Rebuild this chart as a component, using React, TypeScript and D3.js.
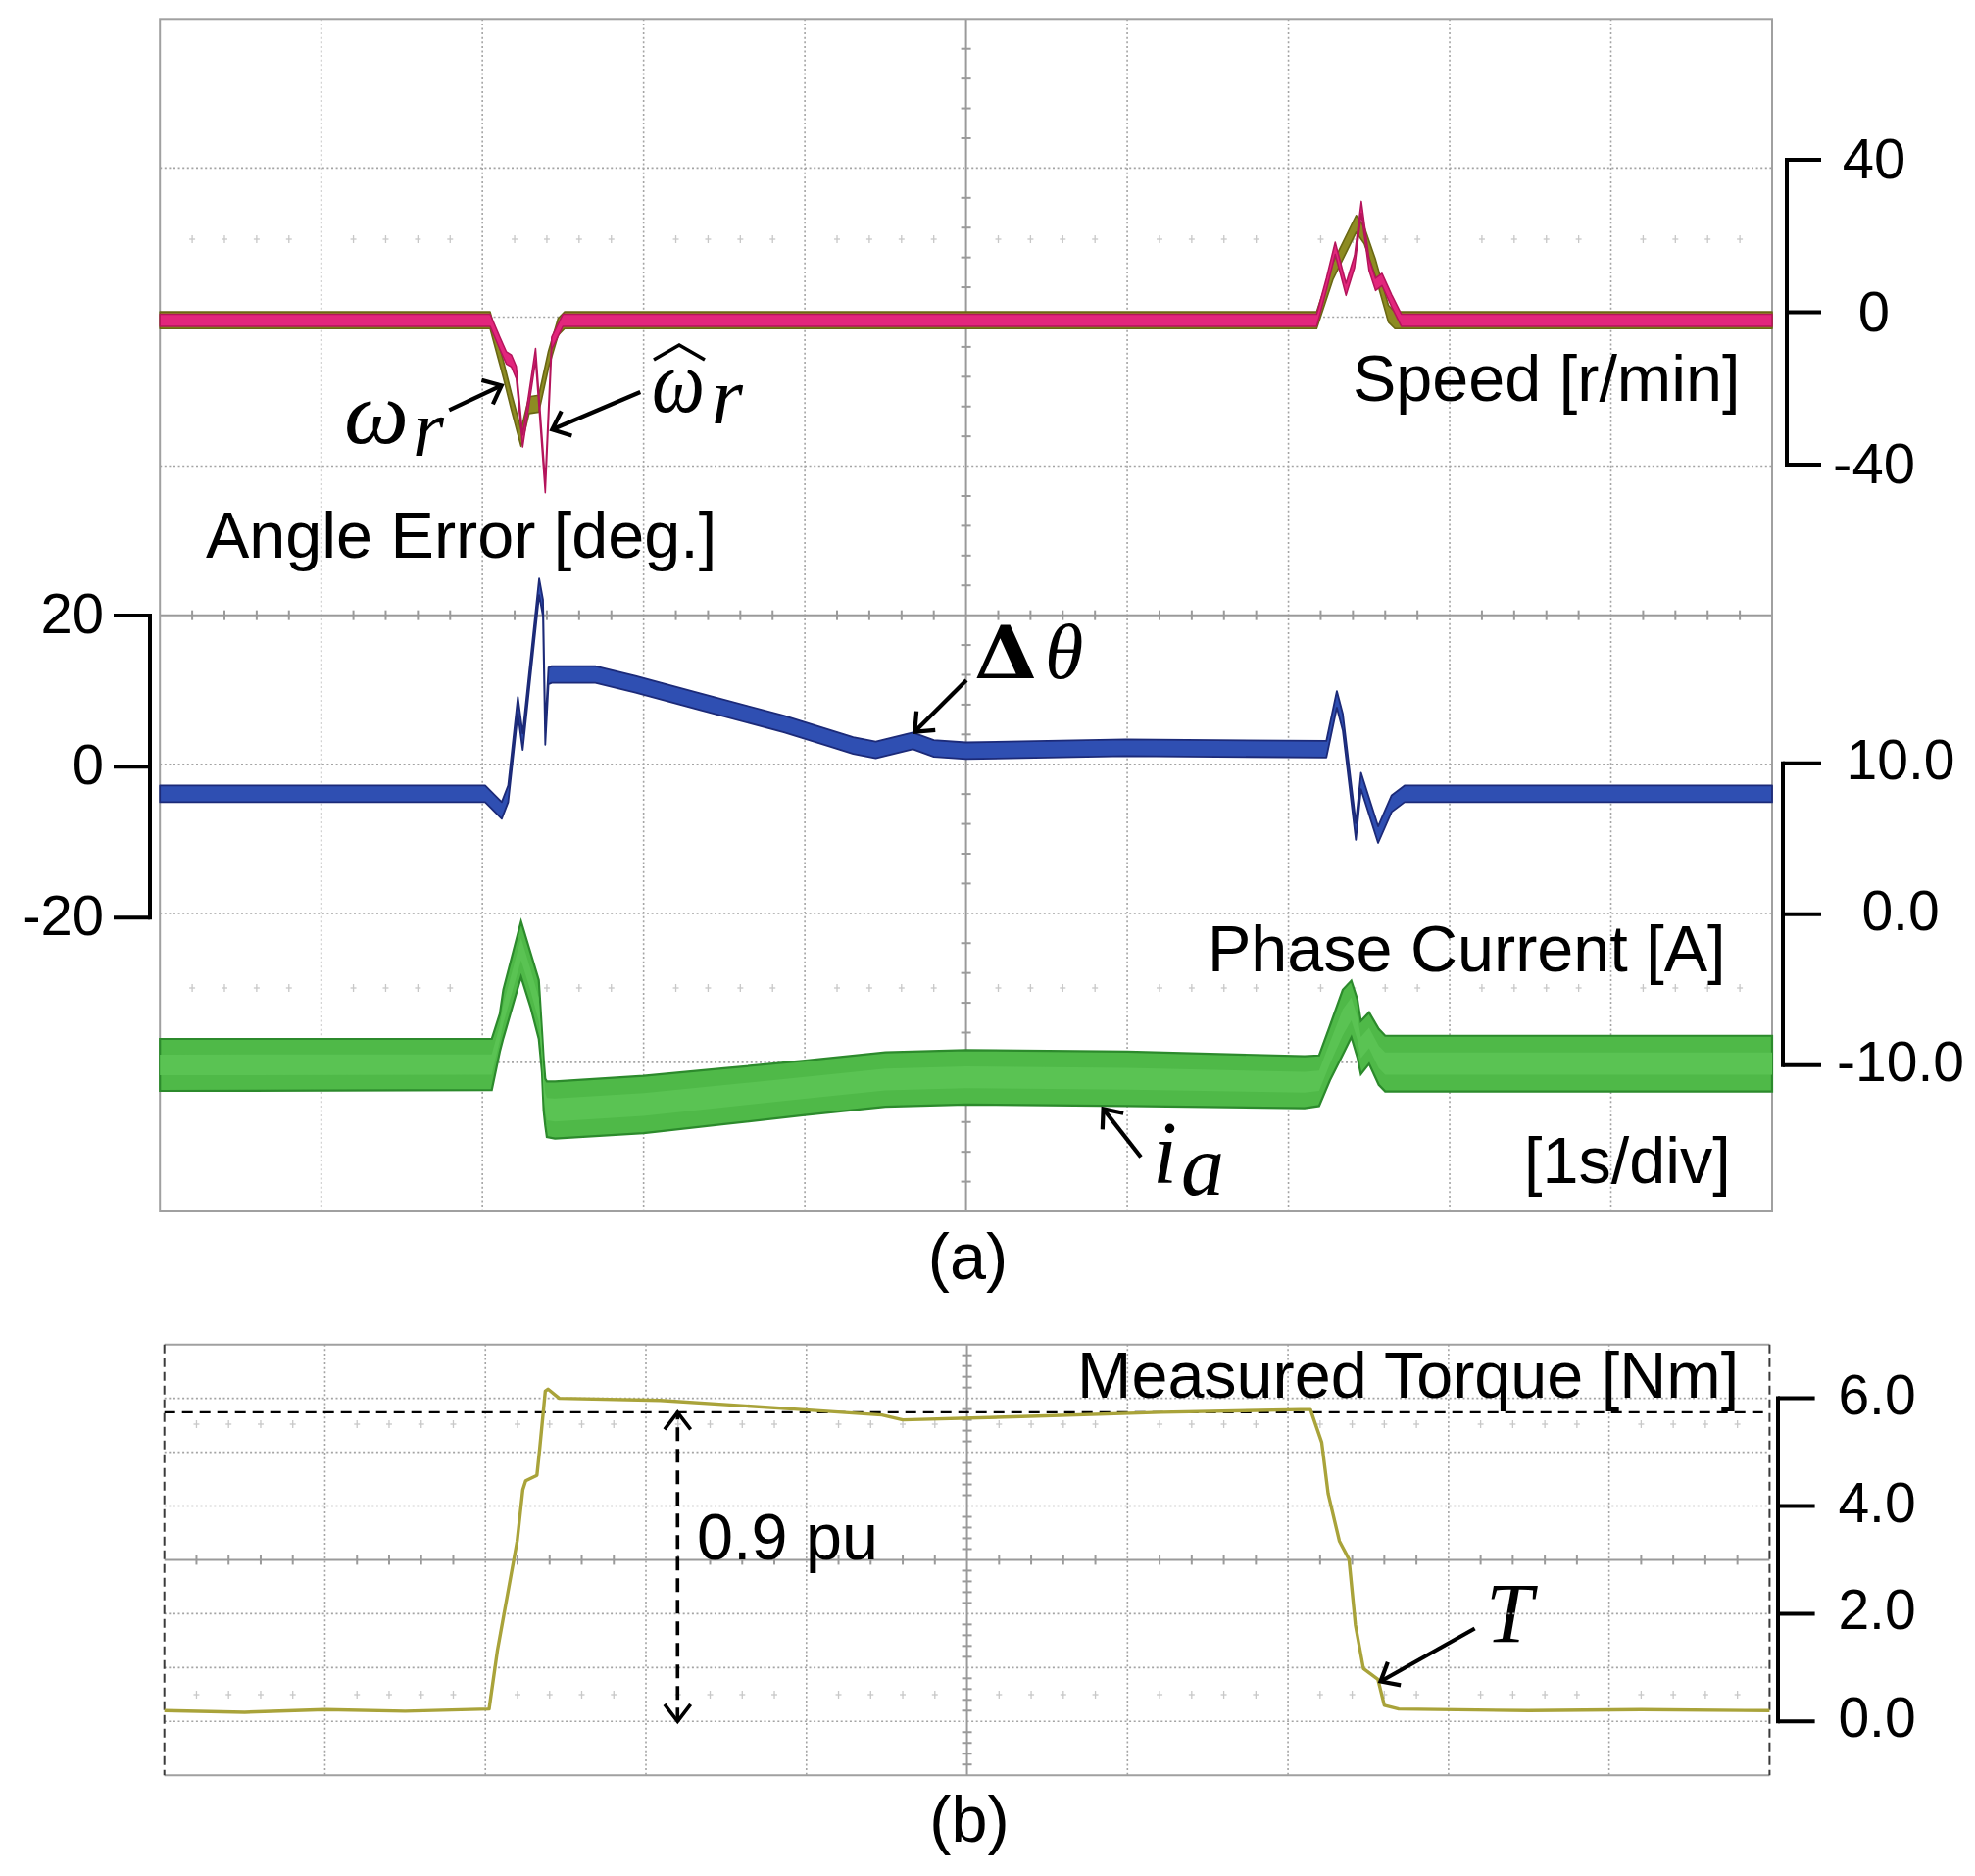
import React from "react";
import * as d3 from "d3";

const W = 2015;
const H = 1914;

// estimated speed (pink) [s, r/min]
const speedEstimated: [number, number][] = [
  [0, -2.1], [2.048, -2.1], [2.108, -8.1], [2.149, -12.0], [2.18, -12.8], [2.21, -15.8],
  [2.25, -33.8], [2.33, -11.1], [2.39, -45.8], [2.43, -8.1], [2.5, -2.1],
  [7.175, -2.1], [7.235, 7.3], [7.29, 16.8], [7.357, 6], [7.41, 13.3], [7.452, 27.5],
  [7.5, 12.5], [7.54, 7.3], [7.58, 8.6], [7.64, 3], [7.7, -2.1], [10, -2.1],
];

// measured speed (olive) [s, r/min]
const speedMeasured: [number, number][] = [
  [0, -2.1], [2.048, -2.1], [2.13, -15.0], [2.18, -23.5], [2.24, -33], [2.29, -24.4],
  [2.35, -24], [2.41, -12.4], [2.47, -3.8], [2.51, -2.1],
  [7.175, -2.1], [7.275, 10.7], [7.42, 23.2], [7.47, 20.2], [7.54, 11.6], [7.62, -0.4],
  [7.66, -2.1], [10, -2.1],
];

// angle error (blue) [s, deg]
const angleError: [number, number][] = [
  [0, -3.6], [2.017, -3.6], [2.12, -5.8], [2.16, -3.6], [2.22, 8.1], [2.25, 3.3],
  [2.352, 23.8], [2.376, 21], [2.39, 4.0], [2.41, 12], [2.43, 12.2], [2.7, 12.2],
  [2.95, 10.9], [3.35, 8.6], [3.87, 5.65], [4.3, 2.8], [4.44, 2.2], [4.67, 3.4],
  [4.8, 2.4], [5.0, 2.1], [5.99, 2.5], [7.235, 2.3], [7.3, 8.9], [7.337, 5.9],
  [7.418, -8.6], [7.45, -1.9], [7.556, -9.0], [7.64, -4.9], [7.72, -3.6], [10, -3.6],
];

// phase current envelope (green) [s, upper A, lower A]
const currentEnvelope: [number, number, number][] = [
  [0, -8.26, -11.7], [2.058, -8.26, -11.65], [2.108, -6.6, -9.1], [2.13, -5.0, -8.2],
  [2.24, -0.47, -4.15], [2.3, -2.6, -6.2], [2.35, -4.37, -8.26], [2.37, -7.8, -10.5],
  [2.38, -9.6, -13.0], [2.39, -10.9, -14.0], [2.4, -11.07, -14.75], [2.45, -11.07, -14.86],
  [3.0, -10.7, -14.5], [3.5, -10.2, -13.9], [4.0, -9.7, -13.3], [4.5, -9.15, -12.75],
  [5.0, -9.0, -12.6], [6.0, -9.1, -12.7], [7.1, -9.4, -12.85], [7.19, -9.35, -12.7],
  [7.257, -7.4, -11.0], [7.337, -5.0, -9.3], [7.39, -4.4, -8.15], [7.428, -5.66, -9.5],
  [7.449, -7.07, -10.6], [7.5, -6.5, -9.9], [7.56, -7.6, -11.3], [7.6, -8.05, -11.74],
  [10, -8.05, -11.74],
];

// measured torque (panel b) [s, Nm]
const torqueMeasured: [number, number][] = [
  [0, 0.2], [0.5, 0.17], [1.0, 0.22], [1.5, 0.19], [2.023, 0.23], [2.075, 1.32],
  [2.198, 3.35], [2.233, 4.3], [2.251, 4.47], [2.321, 4.57], [2.338, 5.05], [2.373, 6.13],
  [2.39, 6.17], [2.46, 6.0], [3.09, 5.96], [3.97, 5.79], [4.47, 5.69], [4.6, 5.6],
  [5.34, 5.66], [6.21, 5.74], [7.08, 5.79], [7.14, 5.79], [7.21, 5.18], [7.25, 4.23],
  [7.32, 3.35], [7.38, 3.01], [7.42, 1.79], [7.47, 0.98], [7.56, 0.78], [7.6, 0.3],
  [7.69, 0.23], [8.5, 0.2], [9.2, 0.22], [10, 0.2],
];
const torqueRated = 5.74;

const speedTicks = [40, 0, -40];
const angleTicks = [20, 0, -20];
const currentTicks = [10, 0, -10];
const torqueTicks = [6, 4, 2, 0];

// ---- layout ----
const sans = "'Liberation Sans', Arial, Helvetica, sans-serif";
const serif = "'Liberation Serif', 'Times New Roman', serif";

const xA = d3.scaleLinear().domain([0, 10]).range([163.2, 1808]);
const xB = d3.scaleLinear().domain([0, 10]).range([167.7, 1805.4]);
const gridA = d3.scaleLinear().domain([0, 8]).range([19.3, 1236]);
const gridB = d3.scaleLinear().domain([0, 8]).range([1371.7, 1811.2]);

const ySpeed = d3.scaleLinear().domain([-40, 40]).range([474, 163]);
const yAngle = d3.scaleLinear().domain([-20, 20]).range([936.3, 628]);
const yCurrent = d3.scaleLinear().domain([-10, 10]).range([1086.8, 778.7]);
const yTorque = d3.scaleLinear().domain([0, 6]).range([1756.3, 1426.6]);

type Lin = d3.ScaleLinear<number, number>;

function band(x: Lin, y: Lin, half: number) {
  return d3
    .area<[number, number]>()
    .x((d) => x(d[0]))
    .y0((d) => y(d[1] - half))
    .y1((d) => y(d[1] + half));
}

function Grid({ x, g, scopeB }: { x: Lin; g: Lin; scopeB?: boolean }) {
  const [l, r] = x.range();
  const [t, b] = g.range();
  const xc = x(5);
  const yc = g(4);
  const dotted = { stroke: "#a4a4a4", strokeWidth: 1.6, strokeDasharray: "2 2.6" };
  const solid = { stroke: "#9a9a9a", strokeWidth: 2 };
  return (
    <g>
      {d3.range(1, 10).filter((i) => i !== 5).map((i) => (
        <line key={"c" + i} x1={x(i)} x2={x(i)} y1={t} y2={b} {...dotted} />
      ))}
      {d3.range(1, 8).filter((j) => j !== 4).map((j) => (
        <line key={"r" + j} x1={l} x2={r} y1={g(j)} y2={g(j)} {...dotted} />
      ))}
      <line x1={xc} x2={xc} y1={t} y2={b} {...solid} />
      <line x1={l} x2={r} y1={yc} y2={yc} {...solid} />
      {d3.range(1, 50).filter((k) => k % 5 !== 0).map((k) => (
        <line key={"hx" + k} x1={x(k / 5)} x2={x(k / 5)} y1={yc - 5} y2={yc + 5} {...solid} />
      ))}
      {d3.range(1, 40).filter((k) => k % 5 !== 0).map((k) => (
        <line key={"vy" + k} x1={xc - 5} x2={xc + 5} y1={g(k / 5)} y2={g(k / 5)} {...solid} />
      ))}
      {scopeB ? (
        <g>
          <line x1={l} x2={r} y1={t} y2={t} stroke="#a0a0a0" strokeWidth={2} />
          <line x1={l} x2={r} y1={b} y2={b} stroke="#a0a0a0" strokeWidth={2} />
          <line x1={l} x2={l} y1={t} y2={b} stroke="#3a3a3a" strokeWidth={2} strokeDasharray="9 5" />
          <line x1={r} x2={r} y1={t} y2={b} stroke="#3a3a3a" strokeWidth={2} strokeDasharray="9 5" />
        </g>
      ) : (
        <rect x={l} y={t} width={r - l} height={b - t} fill="none" stroke="#a0a0a0" strokeWidth={2} />
      )}
    </g>
  );
}

// faint channel reference rows of small crosses
function RefRow({ x, y }: { x: Lin; y: number }) {
  return (
    <g stroke="#c8c8c8" strokeWidth={1.3}>
      {d3.range(1, 50).filter((k) => k % 5 !== 0).map((k) => (
        <g key={k}>
          <line x1={x(k / 5)} x2={x(k / 5)} y1={y - 4} y2={y + 4} />
          <line x1={x(k / 5) - 3} x2={x(k / 5) + 3} y1={y} y2={y} />
        </g>
      ))}
    </g>
  );
}

function Bracket({
  scale, ticks, x, len, labelX, anchor, dy, size, fmt,
}: {
  scale: Lin; ticks: number[]; x: number; len: number; labelX: number;
  anchor: "start" | "middle" | "end"; dy: number; size: number; fmt: (v: number) => string;
}) {
  const ys = ticks.map((v) => scale(v));
  return (
    <g>
      <line x1={x} x2={x} y1={d3.min(ys)! - 2} y2={d3.max(ys)! + 2} stroke="#000" strokeWidth={4} />
      {ticks.map((v) => (
        <g key={v}>
          <line x1={x} x2={x + len} y1={scale(v)} y2={scale(v)} stroke="#000" strokeWidth={4} />
          <text x={labelX} y={scale(v) + dy} fontFamily={sans} fontSize={size} textAnchor={anchor}>
            {fmt(v)}
          </text>
        </g>
      ))}
    </g>
  );
}

function Arrow({
  x1, y1, x2, y2, head = 21, spread = 0.7, w = 4.2, dash,
}: {
  x1: number; y1: number; x2: number; y2: number; head?: number; spread?: number; w?: number; dash?: string;
}) {
  const a = Math.atan2(y2 - y1, x2 - x1);
  const p1 = [x2 - head * Math.cos(a - spread), y2 - head * Math.sin(a - spread)];
  const p2 = [x2 - head * Math.cos(a + spread), y2 - head * Math.sin(a + spread)];
  return (
    <g stroke="#000" strokeWidth={w} fill="none">
      <line x1={x1} y1={y1} x2={x2} y2={y2} strokeDasharray={dash} />
      <polyline points={`${p1.join(",")} ${x2},${y2} ${p2.join(",")}`} />
    </g>
  );
}

export default function App() {
  const olive = band(xA, ySpeed, 2.2)(speedMeasured) || "";
  const pink = band(xA, ySpeed, 1.6)(speedEstimated) || "";
  const blue = band(xA, yAngle, 1.1)(angleError) || "";
  const green =
    d3
      .area<[number, number, number]>()
      .x((d) => xA(d[0]))
      .y0((d) => yCurrent(d[2]))
      .y1((d) => yCurrent(d[1]))(currentEnvelope) || "";
  const greenInner =
    d3
      .area<[number, number, number]>()
      .x((d) => xA(d[0]))
      .y0((d) => yCurrent(d[2] + (d[1] - d[2]) * 0.3))
      .y1((d) => yCurrent(d[1] - (d[1] - d[2]) * 0.3))(currentEnvelope) || "";
  const torquePath =
    d3
      .line<[number, number]>()
      .x((d) => xB(d[0]))
      .y((d) => yTorque(d[1]))(torqueMeasured) || "";

  const fmtInt = (v: number) => String(v);
  const fmt1 = (v: number) => v.toFixed(1);
  const puX = 691.3;

  return (
    <div style={{ position: "absolute", left: 0, top: 0 }}>
      <svg width={W} height={H} style={{ display: "block", background: "#fff" }}>
        {/* ---------- panel (a) ---------- */}
        <Grid x={xA} g={gridA} />
        <RefRow x={xA} y={244} />
        <RefRow x={xA} y={1008} />

        <path d={green} fill="#4fb948" stroke="#2c8a2c" strokeWidth={2.2} />
        <path d={greenInner} fill="#5ac353" />
        <path d={blue} fill="#2f4fb2" stroke="#1c2a78" strokeWidth={1.8} strokeLinejoin="round" />
        <path d={olive} fill="#8d8b22" stroke="#696713" strokeWidth={1.6} strokeLinejoin="round" />
        <path d={pink} fill="#e2267c" stroke="#b4145b" strokeWidth={1.5} strokeLinejoin="round" />

        <Bracket scale={ySpeed} ticks={speedTicks} x={1823} len={35} labelX={1912} anchor="middle" dy={19} size={58} fmt={fmtInt} />
        <Bracket scale={yAngle} ticks={angleTicks} x={153} len={-37} labelX={106} anchor="end" dy={18} size={58} fmt={fmtInt} />
        <Bracket scale={yCurrent} ticks={currentTicks} x={1819} len={39} labelX={1939} anchor="middle" dy={16} size={57} fmt={fmt1} />

        <g fontFamily={sans} fontSize={66.5} fill="#000">
          <text x={1380} y={409}>Speed [r/min]</text>
          <text x={210} y={569}>Angle Error [deg.]</text>
          <text x={1232} y={991}>Phase Current [A]</text>
          <text x={1555} y={1207}>[1s/div]</text>
          <text x={987.5} y={1305} textAnchor="middle">(a)</text>
        </g>

        {/* math annotations */}
        <g fontFamily={serif} fontStyle="italic" fill="#000">
          <text x={351} y={451.7} fontSize={90} textLength={66} lengthAdjust="spacingAndGlyphs">ω</text>
          <text x={421} y={465} fontSize={82}>r</text>
          <text x={665} y={420} fontSize={90} textLength={54} lengthAdjust="spacingAndGlyphs">ω</text>
          <text x={726} y={431.7} fontSize={82}>r</text>
          <text x={1066} y={691.7} fontSize={80}>θ</text>
          <text x={1176} y={1207} fontSize={90}>i</text>
          <text x={1205} y={1218.5} fontSize={88}>a</text>
          <text x={1516} y={1674.5} fontSize={86}>T</text>
        </g>
        <path d="M667,367 L693,352 L719,367" fill="none" stroke="#000" strokeWidth={3.6} strokeLinejoin="miter" />
        <text x={994} y={691.7} fontFamily="'DejaVu Serif', serif" fontWeight="bold" fontSize={75} textLength={64} lengthAdjust="spacingAndGlyphs">Δ</text>

        <Arrow x1={458.3} y1={418.3} x2={511.7} y2={393.3} />
        <Arrow x1={653.3} y1={400} x2={563.3} y2={438.3} />
        <Arrow x1={986} y1={694} x2={933.3} y2={746.6} />
        <Arrow x1={1164} y1={1180.5} x2={1125.6} y2={1131.4} />

        {/* ---------- panel (b) ---------- */}
        <Grid x={xB} g={gridB} scopeB />
        <RefRow x={xB} y={1453} />
        <RefRow x={xB} y={1729} />

        <line
          x1={xB(0)} x2={xB(10)} y1={yTorque(torqueRated)} y2={yTorque(torqueRated)}
          stroke="#000" strokeWidth={2.4} strokeDasharray="11 7"
        />
        <path d={torquePath} fill="none" stroke="#a9a33a" strokeWidth={3.4} strokeLinejoin="round" />

        <Arrow x1={puX} y1={yTorque(0)} x2={puX} y2={yTorque(torqueRated)} head={22} spread={0.65} w={3.6} dash="14 8" />
        <Arrow x1={puX} y1={yTorque(torqueRated) + 20} x2={puX} y2={yTorque(0)} head={22} spread={0.65} w={3.6} dash="0 1000" />
        <Arrow x1={1504.6} y1={1661.5} x2={1408.5} y2={1715.5} />

        <Bracket scale={yTorque} ticks={torqueTicks} x={1814} len={37.6} labelX={1915} anchor="middle" dy={16} size={57} fmt={fmt1} />

        <g fontFamily={sans} fontSize={66.5} fill="#000">
          <text x={1099} y={1426}>Measured Torque [Nm]</text>
          <text x={711} y={1590.7}>0.9 pu</text>
          <text x={989} y={1879} textAnchor="middle">(b)</text>
        </g>
      </svg>
    </div>
  );
}
